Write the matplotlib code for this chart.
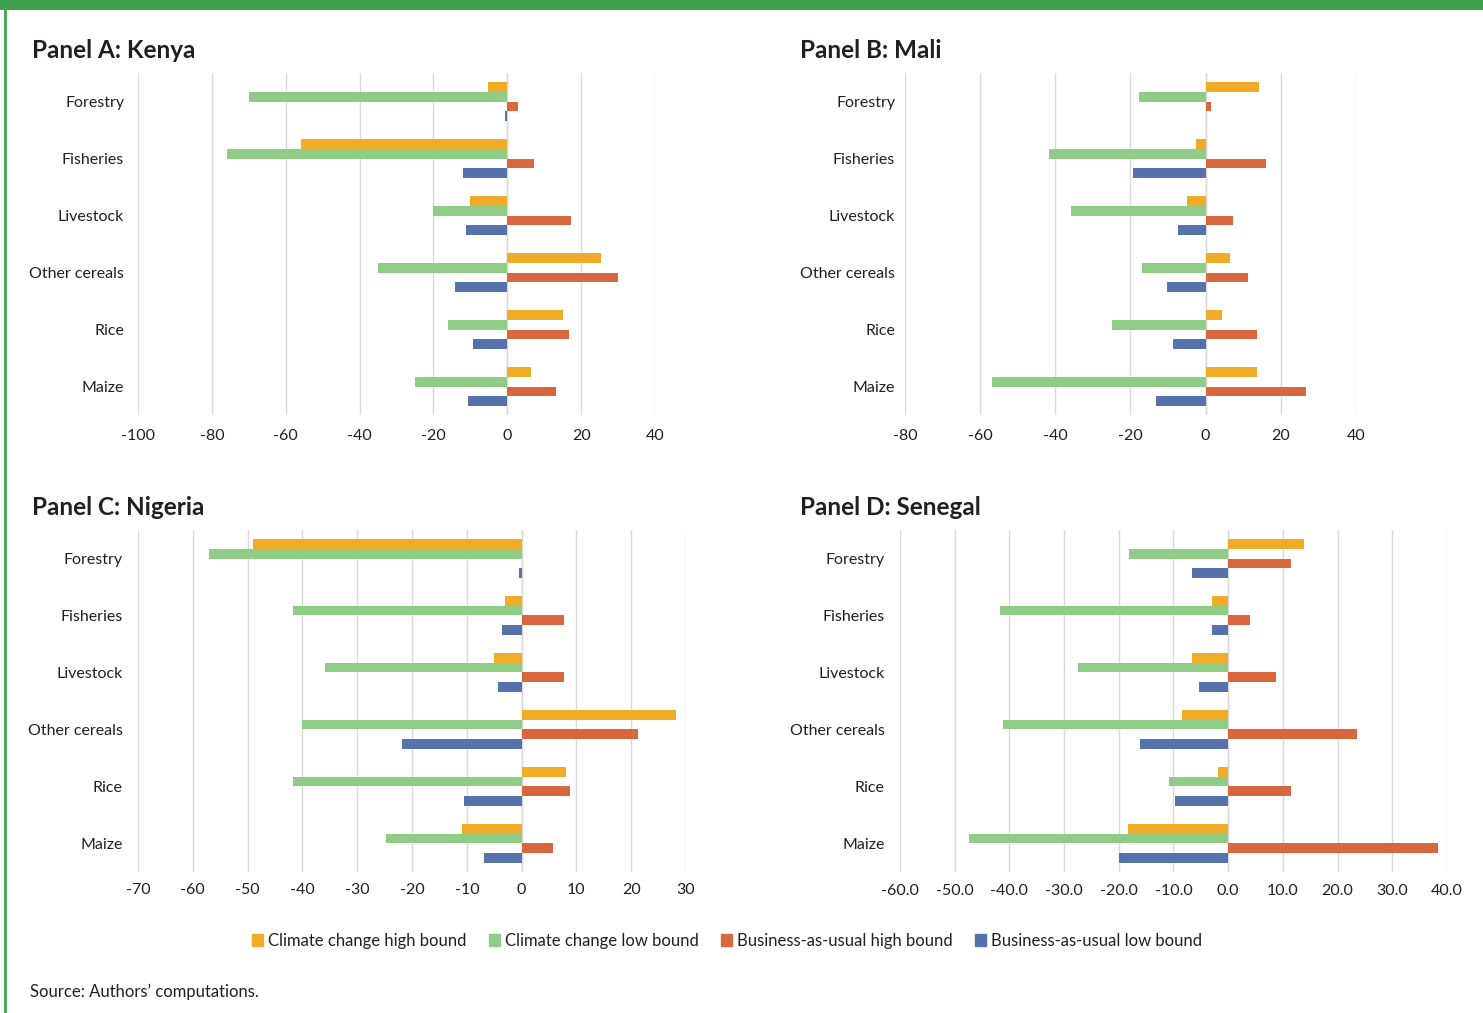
import numpy as np
import matplotlib
matplotlib.use("Agg")
import matplotlib.pyplot as plt
from matplotlib.patches import Rectangle
from matplotlib.lines import Line2D

plt.rcParams['font.family'] = ['Lato', 'DejaVu Sans']

categories = ["Forestry", "Fisheries", "Livestock", "Other cereals", "Rice", "Maize"]
series = ["Climate change high bound", "Climate change low bound",
          "Business-as-usual high bound", "Business-as-usual low bound"]
colors = ["#F0AB27", "#8FCC85", "#D86740", "#5572AA"]

# Panel A: Kenya
kenya_cc_high = [-5.2, -55.8, -10.1, 25.3, 15.1, 6.4]
kenya_cc_low = [-70.0, -75.9, -20.2, -35.0, -16.1, -25.0]
kenya_bau_high = [2.9, 7.3, 17.2, 29.9, 16.7, 13.2]
kenya_bau_low = [-0.6, -12.0, -11.2, -14.2, -9.3, -10.6]

# Panel B: Mali
mali_cc_high = [14.1, -2.6, -5.0, 6.4, 4.5, 13.6]
mali_cc_low = [-17.7, -41.6, -35.8, -17.0, -24.9, -56.7]
mali_bau_high = [1.4, 16.0, 7.4, 11.2, 13.6, 26.8]
mali_bau_low = [0.0, -19.4, -7.4, -10.3, -8.7, -13.2]

# Panel C: Nigeria
nigeria_cc_high = [-49.0, -3.0, -5.1, 28.1, 8.1, -10.9]
nigeria_cc_low = [-57.0, -41.7, -35.8, -40.0, -41.7, -24.8]
nigeria_bau_high = [0.0, 7.7, 7.7, 21.3, 8.9, 5.8]
nigeria_bau_low = [-0.5, -3.6, -4.4, -21.9, -10.6, -6.8]

# Panel D: Senegal
senegal_cc_high = [13.9, -2.9, -6.7, -8.5, -1.9, -18.4]
senegal_cc_low = [-18.1, -41.8, -27.4, -41.1, -10.9, -47.3]
senegal_bau_high = [11.5, 3.9, 8.7, 23.5, 11.5, 38.3]
senegal_bau_low = [-6.7, -2.9, -5.4, -16.1, -9.8, -19.9]

panels = [
    ("Panel A: Kenya", [kenya_cc_high, kenya_cc_low, kenya_bau_high, kenya_bau_low],
     np.arange(-100, 41, 20), "%d", [0.0931, 0.5903, 0.3486, 0.3376], 10, 10),
    ("Panel B: Mali", [mali_cc_high, mali_cc_low, mali_bau_high, mali_bau_low],
     np.arange(-80, 41, 20), "%d", [0.6102, 0.5903, 0.3041, 0.3376], 7, 10),
    ("Panel C: Nigeria", [nigeria_cc_high, nigeria_cc_low, nigeria_bau_high, nigeria_bau_low],
     np.arange(-70, 31, 10), "%d", [0.0931, 0.1392, 0.3695, 0.3376], 11, 8),
    ("Panel D: Senegal", [senegal_cc_high, senegal_cc_low, senegal_bau_high, senegal_bau_low],
     np.arange(-60, 41, 10), "%.1f", [0.6069, 0.1392, 0.3688, 0.3376], 11, 9),
]

fig = plt.figure(figsize=(14.83, 10.13), dpi=100)

# green frame (top band + left rule)
fig.add_artist(Rectangle((0, 1 - 10 / 1013), 1, 10 / 1013, transform=fig.transFigure,
                         color="#3FA34D", lw=0, zorder=0))
fig.add_artist(Line2D([5 / 1483, 5 / 1483], [0, 1], transform=fig.transFigure,
                      color="#3FA34D", lw=2))

y = np.arange(len(categories))
h = 0.17
offsets = [-0.255, -0.085, 0.085, 0.255]

for title, data, ticks, fmt, rect, ypad, xpad in panels:
    ax = fig.add_axes(rect)
    for vals, off, c, name in zip(data, offsets, colors, series):
        ax.barh(y + off, vals, height=h, color=c, label=name, zorder=2)
    ax.set_xlim(ticks[0], ticks[-1])
    ax.set_ylim(len(categories) - 0.5, -0.5)
    ax.set_xticks(ticks)
    ax.set_xticklabels([fmt % t for t in ticks])
    ax.set_yticks(y)
    ax.set_yticklabels(categories)
    ax.grid(axis="x", color="#D9D9D9", lw=1, zorder=0)
    ax.axvline(0, color="#D9D9D9", lw=1, zorder=1)
    for s in ax.spines.values():
        s.set_visible(False)
    ax.tick_params(axis="x", length=0, pad=xpad, labelsize=11.5, labelcolor="#231F20")
    ax.tick_params(axis="y", length=0, pad=ypad, labelsize=11.5, labelcolor="#231F20")
    x0 = 32 / 1483 if rect[0] < 0.5 else 800 / 1483
    ytitle = rect[1] + rect[3] + 0.022
    fig.text(x0, ytitle, title, fontsize=17.5, fontweight="bold", color="#231F20",
             va="center", ha="left")

handles = [Rectangle((0, 0), 1, 1, color=c) for c in colors]
fig.legend(handles, series, loc="center", bbox_to_anchor=(727 / 1483, 1 - 941 / 1013),
           ncol=4, frameon=False, fontsize=12, handlelength=0.7, handleheight=0.7,
           handletextpad=0.3, columnspacing=1.3, labelcolor="#231F20")

fig.text(30 / 1483, 1 - 992 / 1013, "Source: Authors\u2019 computations.", fontsize=12,
         color="#231F20", va="center", ha="left")

fig.savefig("out.png", dpi=100)
